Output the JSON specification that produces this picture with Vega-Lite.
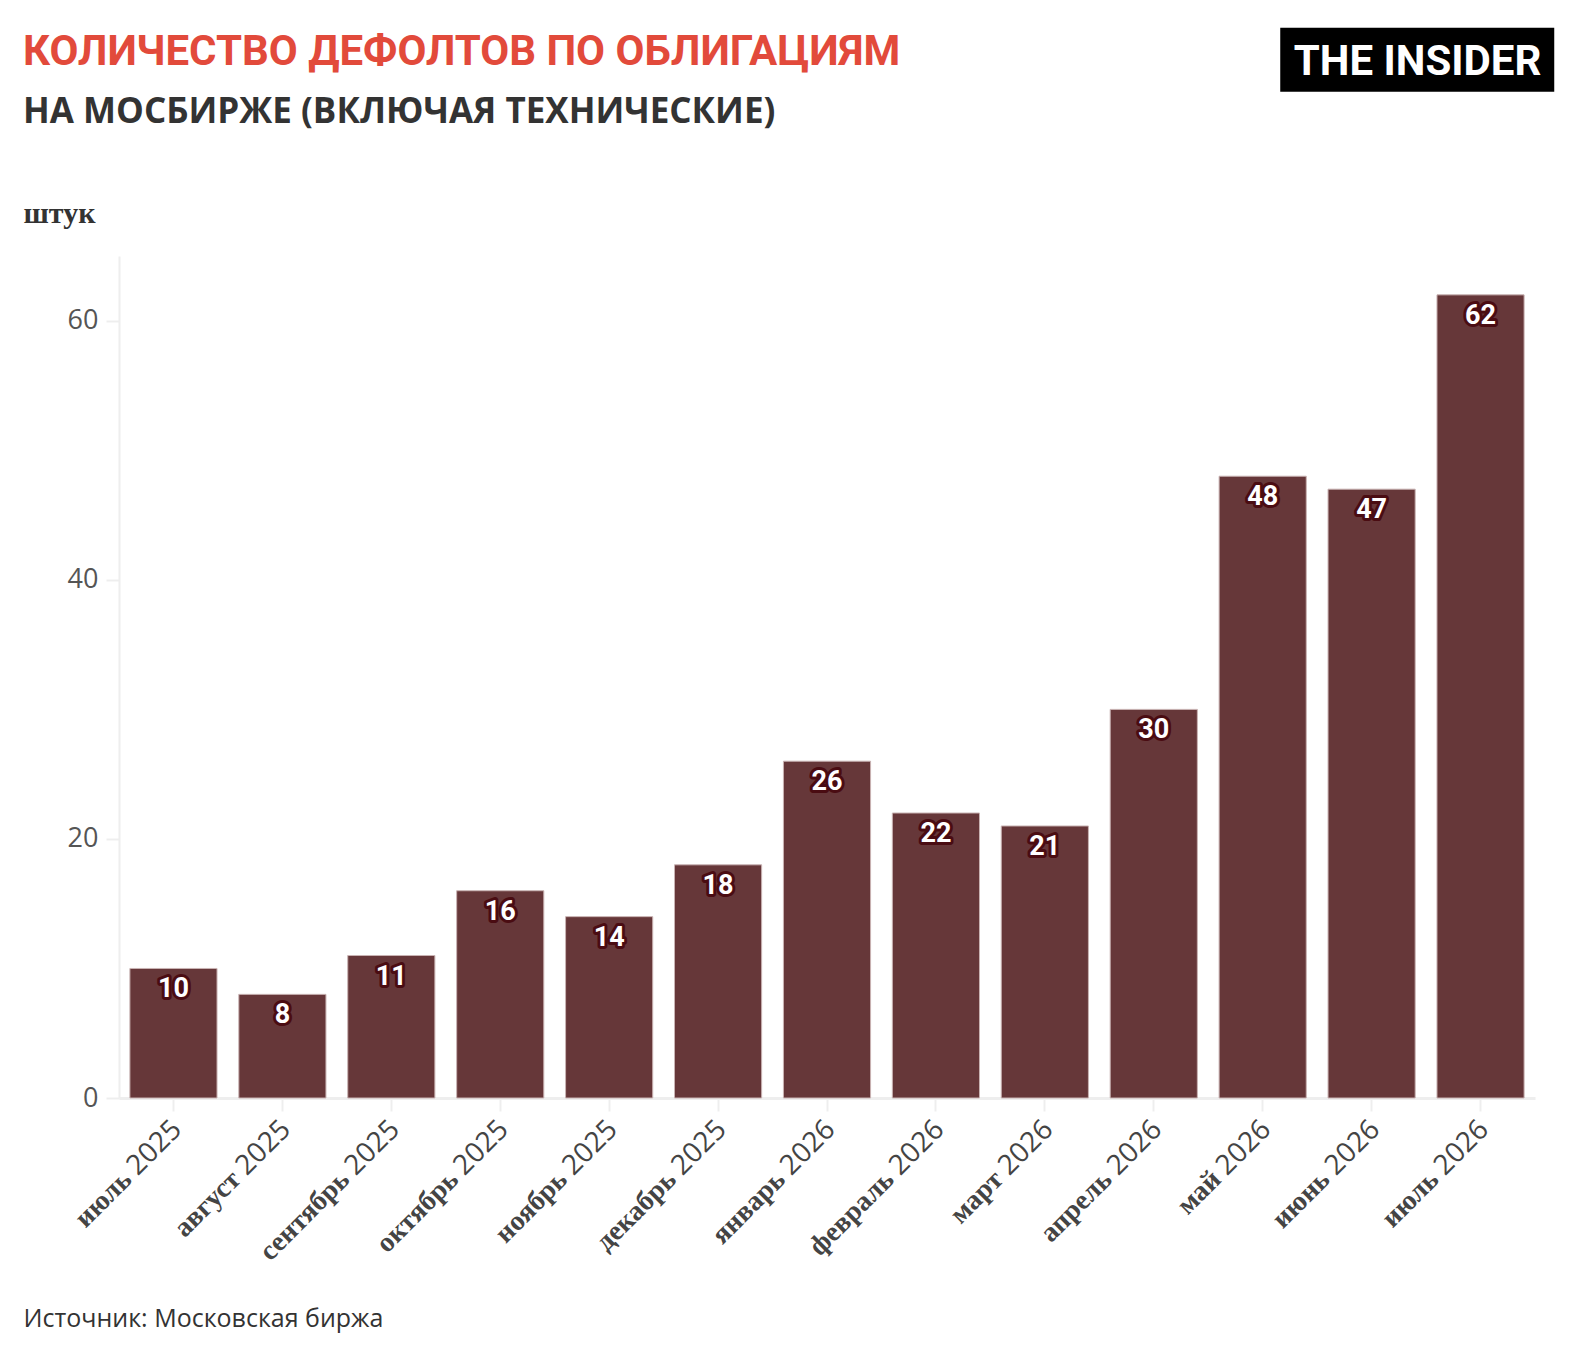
{
  "$schema": "https://vega.github.io/schema/vega-lite/v6.json",
  "autosize": {"type": "none"},
  "padding": {"left": 119, "top": 256, "right": 53, "bottom": 256},
  "width": 1416,
  "height": 842,
  "background": "white",
  "title": {
    "text": "КОЛИЧЕСТВО ДЕФОЛТОВ ПО ОБЛИГАЦИЯМ",
    "subtitle": "НА МОСБИРЖЕ (ВКЛЮЧАЯ ТЕХНИЧЕСКИЕ)",
    "anchor": "start",
    "frame": "group",
    "dx": -96,
    "offset": -103,
    "font": "Roboto",
    "fontSize": 42,
    "fontWeight": "bold",
    "color": "#e24a3b",
    "subtitleFont": "Open Sans",
    "subtitleFontSize": 35,
    "subtitleFontWeight": "bold",
    "subtitleColor": "#333333",
    "subtitlePadding": 21
  },
  "data": {
    "values": [
      {"month": "июль 2025", "count": 10},
      {"month": "август 2025", "count": 8},
      {"month": "сентябрь 2025", "count": 11},
      {"month": "октябрь 2025", "count": 16},
      {"month": "ноябрь 2025", "count": 14},
      {"month": "декабрь 2025", "count": 18},
      {"month": "январь 2026", "count": 26},
      {"month": "февраль 2026", "count": 22},
      {"month": "март 2026", "count": 21},
      {"month": "апрель 2026", "count": 30},
      {"month": "май 2026", "count": 48},
      {"month": "июнь 2026", "count": 47},
      {"month": "июль 2026", "count": 62}
    ]
  },
  "resolve": {"axis": {"x": "independent"}},
  "layer": [
    {
      "mark": {"type": "bar", "color": "#663739", "stroke": "#c9b3b3", "strokeWidth": 1},
      "encoding": {
        "x": {
          "field": "month",
          "type": "nominal",
          "sort": null,
          "scale": {"paddingInner": 0.2, "paddingOuter": 0.1},
          "axis": {
            "orient": "bottom",
            "labelExpr": "split(datum.label, ' ')[1]",
            "labelAngle": -45,
            "labelAlign": "right",
            "labelBaseline": "middle",
            "labelFont": "Open Sans",
            "labelFontSize": 28,
            "labelColor": "#444444",
            "labelPadding": 14,
            "labelOffset": 4,
            "labelOverlap": false,
            "labelBound": false,
            "labelFlush": false,
            "tickSize": 13,
            "tickWidth": 2,
            "tickColor": "#eeeeee",
            "domainColor": "#eeeeee",
            "domainWidth": 3,
            "grid": false,
            "title": "Источник: Московская биржа",
            "titleX": -96,
            "titleY": 228,
            "titleAlign": "left",
            "titleAnchor": "start",
            "titleBaseline": "alphabetic",
            "titleFont": "Open Sans",
            "titleFontSize": 25,
            "titleFontWeight": "normal",
            "titleColor": "#333333"
          }
        },
        "y": {
          "field": "count",
          "type": "quantitative",
          "scale": {"domain": [0, 65]},
          "axis": {
            "values": [0, 20, 40, 60],
            "grid": false,
            "domainColor": "#eeeeee",
            "domainWidth": 2,
            "tickColor": "#eeeeee",
            "tickWidth": 2,
            "tickSize": 13,
            "labelFont": "Open Sans",
            "labelFontSize": 27,
            "labelColor": "#555555",
            "labelPadding": 8,
            "title": "штук",
            "titleAngle": 0,
            "titleAlign": "left",
            "titleBaseline": "alphabetic",
            "titleX": -96,
            "titleY": -34,
            "titleFont": "Liberation Serif",
            "titleFontWeight": "bold",
            "titleFontSize": 30,
            "titleColor": "#333333"
          }
        }
      }
    },
    {
      "mark": {
        "type": "text",
        "font": "Roboto",
        "fontWeight": "bold",
        "fontSize": 27,
        "baseline": "alphabetic",
        "dy": 29,
        "fill": "#4a0c12",
        "stroke": "#4a0c12",
        "strokeWidth": 6,
        "strokeJoin": "round"
      },
      "encoding": {
        "x": {"field": "month", "type": "nominal", "sort": null, "axis": null},
        "y": {"field": "count", "type": "quantitative"},
        "text": {"field": "count", "type": "quantitative"}
      }
    },
    {
      "mark": {
        "type": "text",
        "font": "Roboto",
        "fontWeight": "bold",
        "fontSize": 27,
        "baseline": "alphabetic",
        "dy": 29,
        "fill": "white"
      },
      "encoding": {
        "x": {
          "field": "month",
          "type": "nominal",
          "sort": null,
          "axis": {
            "orient": "bottom",
            "labelExpr": "split(datum.label, ' ')[0]",
            "labelAngle": -45,
            "labelAlign": "right",
            "labelBaseline": "middle",
            "labelFont": "Liberation Serif",
            "labelFontWeight": "bold",
            "labelFontSize": 28,
            "labelColor": "#444444",
            "labelPadding": 64,
            "labelOffset": -46,
            "labelOverlap": false,
            "labelBound": false,
            "labelFlush": false,
            "tickSize": 13,
            "tickOpacity": 0,
            "domain": false,
            "grid": false,
            "title": null
          }
        },
        "y": {"field": "count", "type": "quantitative"},
        "text": {"field": "count", "type": "quantitative"}
      }
    },
    {
      "data": {"values": [{"brand": "THE INSIDER"}]},
      "mark": {
        "type": "point",
        "shape": "M-1.462,-0.2336L0.538,-0.2336L0.538,0.2336L-1.462,0.2336Z",
        "size": 75076,
        "filled": true,
        "opacity": 1,
        "color": "black",
        "strokeWidth": 0
      },
      "encoding": {
        "x": {"datum": "июль 2026", "type": "nominal", "axis": null},
        "y": {"datum": 80.15, "type": "quantitative"}
      }
    },
    {
      "data": {"values": [{"brand": "THE INSIDER"}]},
      "mark": {
        "type": "text",
        "font": "Roboto",
        "fontWeight": "bold",
        "fontSize": 42,
        "align": "center",
        "baseline": "alphabetic",
        "dx": -63,
        "dy": 15,
        "color": "white"
      },
      "encoding": {
        "x": {"datum": "июль 2026", "type": "nominal", "axis": null},
        "y": {"datum": 80.15, "type": "quantitative"},
        "text": {"field": "brand", "type": "nominal"}
      }
    }
  ],
  "config": {"view": {"stroke": null}}
}
